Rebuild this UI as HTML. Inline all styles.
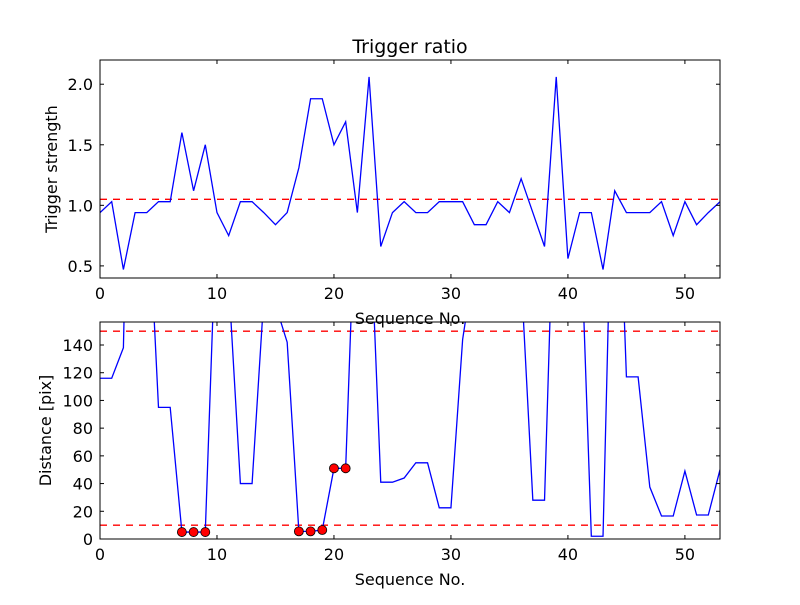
<!DOCTYPE html>
<html><head><meta charset="utf-8"><style>
html,body{margin:0;padding:0;background:#fff}
svg text{font-family:"DejaVu Sans","Liberation Sans",sans-serif;fill:#000}
</style></head><body>
<svg id="chart" width="800" height="600" viewBox="0 0 800 600" xmlns="http://www.w3.org/2000/svg">
<rect width="800" height="600" fill="#fff"/>
</svg>
<script>
const xTicks = [0,10,20,30,40,50];
const topYTicks = [0.5,1.0,1.5,2.0];
const botYTicks = [0,20,40,60,80,100,120,140];
const strength = [0.94,1.03,0.47,0.94,0.94,1.03,1.03,1.6,1.12,1.5,0.94,0.75,1.03,1.03,0.94,0.84,0.94,1.31,1.88,1.88,1.5,1.69,0.94,2.06,0.66,0.94,1.03,0.94,0.94,1.03,1.03,1.03,0.84,0.84,1.03,0.94,1.22,0.94,0.66,2.06,0.56,0.94,0.94,0.47,1.12,0.94,0.94,0.94,1.03,0.75,1.03,0.84,0.94,1.03];
const distance = [116,116,138,518,267,95,95,5,5,5,246,186,40,40,174,169,142,5.5,5.5,6.5,51,51,287,252,41,41,44,55,55,22.5,22.5,144,200,200,200,200,190,28,28,308,200,248,2,2,350,117,117,37.5,16.6,16.6,49,17.3,17.3,50];
const markedIdx = [7,8,9,17,18,19,20,21];
const strengthThreshold = [1.05];
const distanceThresholds = [10,150];

const NS='http://www.w3.org/2000/svg';
const svg=document.getElementById('chart');
function mk(tag,attrs,parent){const e=document.createElementNS(NS,tag);for(const k in attrs)e.setAttribute(k,attrs[k]);(parent||svg).appendChild(e);return e;}
const L=100,R=720,xMax=53;
const xs=v=>L+(R-L)*v/xMax;

function panel(name,top,bot,yMin,yMax,ticks,fmt,values,thresholds,ylabel,ylx){
  const ys=v=>bot-(bot-top)*(v-yMin)/(yMax-yMin);
  const g=mk('g',{});
  
  
  const cid='clip-'+name;
  const cp=mk('clipPath',{id:cid},g);mk('rect',{x:L,y:top,width:R-L,height:bot-top},cp);
  thresholds.forEach(t=>{const l=mk('line',{x1:L,x2:R,y1:ys(t),y2:ys(t),stroke:'#f00','stroke-width':1.4,'stroke-dasharray':'7,6','clip-path':`url(#${cid})`},g);
    
    });
  const pts=values.map((v,i)=>xs(i).toFixed(2)+','+ys(v).toFixed(2)).join(' ');
  const pl=mk('polyline',{points:pts,fill:'none',stroke:'#00f','stroke-width':1.3,'clip-path':`url(#${cid})`},g);
  
  
  mk('rect',{x:L,y:top,width:R-L,height:bot-top,fill:'none',stroke:'#000','stroke-width':1},g);
  xTicks.forEach(t=>{const x=xs(t);
    mk('line',{x1:x,x2:x,y1:bot,y2:bot-4,stroke:'#000'},g);mk('line',{x1:x,x2:x,y1:top,y2:top+4,stroke:'#000'},g);
    const tx=mk('text',{x:x,y:bot+21,'font-size':16,'text-anchor':'middle'},g);tx.textContent=t;
    
    });
  ticks.forEach(t=>{const y=ys(t);
    mk('line',{x1:L,x2:L+4,y1:y,y2:y,stroke:'#000'},g);mk('line',{x1:R,x2:R-4,y1:y,y2:y,stroke:'#000'},g);
    const tx=mk('text',{x:L-7,y:y+6,'font-size':16,'text-anchor':'end'},g);tx.textContent=fmt(t);
    
    });
  const xl=mk('text',{x:410,y:bot+46,'font-size':16,'text-anchor':'middle'},g);xl.textContent='Sequence No.';
  
  
  const yl=mk('text',{x:ylx,y:(top+bot)/2,'font-size':16,'text-anchor':'middle',transform:`rotate(-90 ${ylx} ${(top+bot)/2})`},g);yl.textContent=ylabel;
  
  
  return ys;
}
const t1=mk('text',{x:410,y:53,'font-size':19,'text-anchor':'middle'});t1.textContent='Trigger ratio';


panel('strength',60,278,0.4,2.2,topYTicks,v=>v.toFixed(1),strength,strengthThreshold,'Trigger strength',57);
const ysB=panel('distance',322,539,0,156.6,botYTicks,v=>String(v),distance,distanceThresholds,'Distance [pix]',51);
markedIdx.forEach(i=>{const c=mk('circle',{cx:xs(i),cy:ysB(distance[i]),r:4.5,fill:'#f00',stroke:'#000','stroke-width':0.8});
  
  });
</script>
</body></html>
